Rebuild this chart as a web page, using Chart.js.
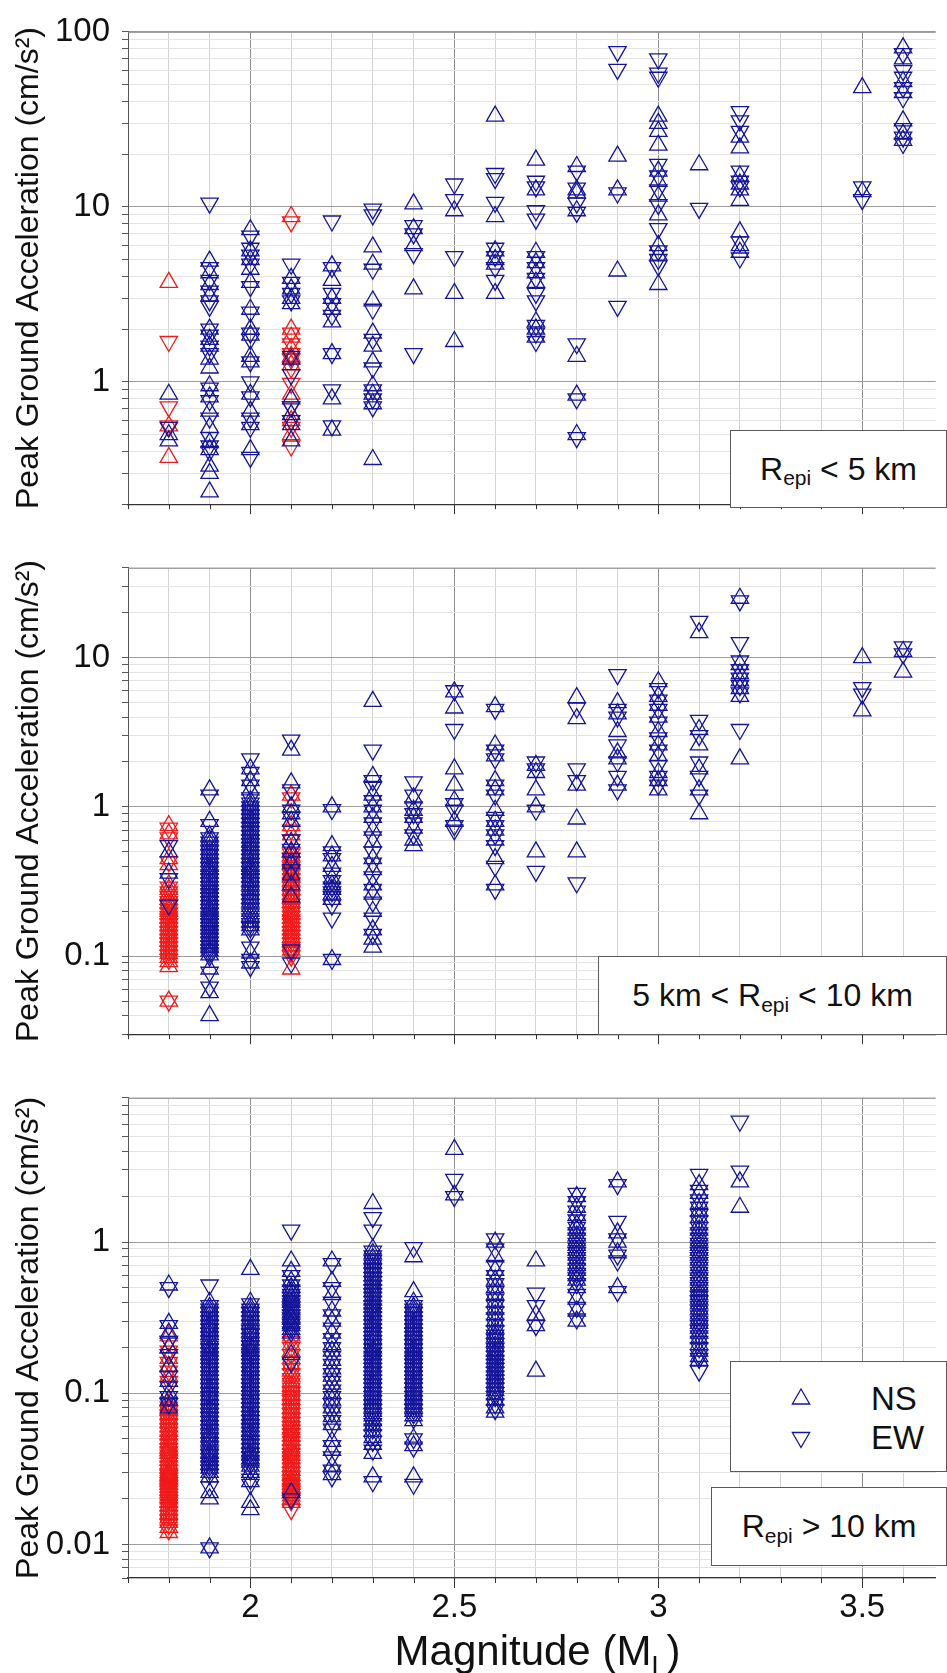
<!DOCTYPE html>
<html>
<head>
<meta charset="utf-8">
<script src="https://cdn.jsdelivr.net/npm/chart.js@4.4.1/dist/chart.umd.min.js"></script>
<style>
  html, body { margin: 0; padding: 0; background: #fff; }
  body { width: 947px; height: 1673px; position: relative; overflow: hidden;
         font-family: "Liberation Sans", Arial, sans-serif; color: #111; }
  canvas { position: absolute; left: 0; }
  .box { position: absolute; background: #fff; border: 1px solid #5a5a5a; box-sizing: border-box;
         display: flex; align-items: center; justify-content: center; font-size: 32px; white-space: nowrap; z-index: 2; }
  .sub { font-size: 21px; position: relative; top: 9px; }
  .leg { position: absolute; font-size: 33px; line-height: 33px; }
  #xtitle { position: absolute; left: 128px; width: 819px; top: 1630px; text-align: center;
            font-size: 42px; line-height: 42px; }
  #xtitle .subL { font-size: 27px; position: relative; top: 10px; }
</style>
</head>
<body>
<canvas id="c1" width="947" height="536" style="top:0px"></canvas>
<canvas id="c2" width="947" height="530" style="top:536px"></canvas>
<canvas id="c3" width="947" height="607" style="top:1066px"></canvas>

<div class="box" style="left:730px; top:430px; width:217px; height:78px;">R<span class="sub">epi</span>&nbsp;&lt; 5 km</div>
<div class="box" style="left:598px; top:956px; width:349px; height:79px;">5 km &lt; R<span class="sub">epi</span>&nbsp;&lt; 10 km</div>
<div class="box" style="left:711px; top:1487px; width:236px; height:79px;">R<span class="sub">epi</span>&nbsp;&gt; 10 km</div>
<div class="box" style="left:730px; top:1361px; width:217px; height:111px; display:block;">
  <svg width="217" height="111" style="position:absolute; left:0; top:0;">
    <polygon points="70,27 78.66,42 61.34,42" fill="none" stroke="#15159a" stroke-width="1.3"/>
    <polygon points="70,85.5 78.66,70.5 61.34,70.5" fill="none" stroke="#15159a" stroke-width="1.3"/>
  </svg>
  <span class="leg" style="left:140px; top:20px;">NS</span>
  <span class="leg" style="left:140px; top:59px;">EW</span>
</div>
<div id="xtitle">Magnitude (M<span class="subL">L</span>)</div>

<script>
// magnitudes of the event columns
const mags = [1.8, 1.9, 2.0, 2.1, 2.2, 2.3, 2.4, 2.5, 2.6, 2.7, 2.8, 2.9, 3.0, 3.1, 3.2, 3.5, 3.6];
const redMags = [1.8, 2.1];

// x grid / tick positions and labelled ticks
const xGridTicks = [1.7, 1.8, 1.9, 2.0, 2.1, 2.2, 2.3, 2.4, 2.5, 2.6, 2.7, 2.8, 2.9, 3.0, 3.1, 3.2, 3.3, 3.4, 3.5, 3.6];
const xTickLabels = [2, 2.5, 3, 3.5];
const minorSteps = [1, 2, 3, 4, 5, 6, 7, 8, 9];

// ---- Panel 1: Repi < 5 km (one inner list per magnitude in mags)
const p1NS = [
  [0.85, 0.5, 0.46],
  [4.9, 4.2, 3.6, 3.1, 2.0, 1.75, 1.6, 1.35, 1.2, 0.95, 0.82, 0.68, 0.55, 0.45, 0.41, 0.33, 0.3, 0.235],
  [7.4, 5.6, 5.0, 4.4, 3.7, 2.6, 2.0, 1.85, 1.4, 1.3, 0.85, 0.68, 0.57, 0.41],
  [3.9, 3.4, 3.0, 2.8, 1.35, 0.8, 0.65, 0.57, 0.46],
  [4.6, 3.8, 3.0, 2.6, 2.2, 1.45, 0.8, 0.53],
  [5.9, 4.7, 2.9, 1.9, 1.6, 1.3, 0.95, 0.85, 0.75, 0.36],
  [10.4, 7.5, 6.0, 3.4],
  [9.5, 3.2, 1.7],
  [33, 8.8, 5.6, 5.0, 4.7, 3.2],
  [18.5, 12.5, 5.5, 4.8, 4.2, 3.7, 2.2, 2.0, 1.8],
  [17, 12.5, 12.0, 9.5, 1.4, 0.84, 0.5],
  [19.5, 12.5, 4.3],
  [33, 30, 27, 22.5, 16, 14, 11.5, 9.0, 6.0, 5.3, 3.6],
  [17.4],
  [25, 21.7, 15, 13.5, 12.5, 10.9, 7.2, 6.0, 5.5],
  [48, 12.2],
  [81, 70, 52, 45, 31, 26, 24]
];
const p1EW = [
  [0.55],
  [10.5, 4.5, 3.8, 3.3, 2.9, 2.7, 2.0, 1.85, 1.6, 1.45, 0.92, 0.78, 0.62, 0.48, 0.43, 0.4],
  [6.8, 5.8, 5.3, 4.7, 3.5, 2.5, 1.9, 1.75, 1.3, 1.0, 0.82, 0.62, 0.55, 0.37],
  [4.7, 3.7, 3.2, 2.9, 1.4, 1.1, 0.72, 0.6],
  [8.3, 4.5, 3.2, 2.8, 2.4, 1.45, 0.9, 0.56],
  [9.7, 9.0, 4.4, 2.6, 1.75, 1.2, 0.9, 0.8, 0.72],
  [7.8, 7.0, 5.4, 1.45],
  [13.5, 11.0, 5.2],
  [15.5, 14.5, 10.6, 5.8, 5.2, 4.5, 3.8],
  [14, 13, 9.5, 8.5, 5.2, 4.5, 3.9, 3.2, 2.9, 2.1, 1.9, 1.7],
  [16, 12.8, 10.5, 9.3, 1.65, 0.8, 0.48],
  [77, 61, 12.0, 2.7],
  [70, 58, 55, 17.5, 15, 12.5, 10.3, 7.5, 5.6, 5.0, 4.6],
  [9.8],
  [35, 31, 27, 16, 14, 13, 6.3, 5.1],
  [13, 11],
  [75, 60, 55, 48, 42, 28, 25, 23]
];
const p1RedNS = [
  [3.7, 0.56, 0.37],
  [8.8, 2.0, 1.8, 1.55, 1.4, 1.25, 0.85, 0.6, 0.5]
];
const p1RedEW = [
  [1.7, 0.72, 0.56],
  [8.2, 1.9, 1.65, 1.45, 1.35, 1.2, 0.98, 0.72, 0.55, 0.43]
];

// ---- Panel 2: 5 km < Repi < 10 km
const p2NS = [
  [0.5, 0.36],
  [1.3, 0.8, 0.64, 0.6, 0.56, 0.52, 0.49, 0.46, 0.43, 0.4, 0.38, 0.36, 0.34, 0.32, 0.3, 0.285, 0.27, 0.255, 0.24, 0.225, 0.21, 0.2, 0.19, 0.18, 0.17, 0.16, 0.152, 0.144, 0.136, 0.128, 0.121, 0.114, 0.108, 0.102, 0.082, 0.057, 0.04],
  [1.8, 1.5, 1.3, 1.1, 1.03, 0.97, 0.91, 0.85, 0.8, 0.75, 0.7, 0.66, 0.62, 0.58, 0.55, 0.52, 0.49, 0.46, 0.43, 0.4, 0.38, 0.36, 0.34, 0.32, 0.3, 0.28, 0.26, 0.245, 0.23, 0.215, 0.2, 0.185, 0.17, 0.16, 0.15, 0.105, 0.09],
  [2.4, 1.45, 1.0, 0.9, 0.8, 0.58, 0.5, 0.42, 0.35, 0.3, 0.25],
  [1.0, 0.55, 0.47, 0.4, 0.33, 0.3, 0.28, 0.26, 0.24, 0.095],
  [5.1, 1.6, 1.2, 1.0, 0.85, 0.7, 0.58, 0.45, 0.38, 0.3, 0.26, 0.2, 0.15, 0.13, 0.115],
  [1.15, 0.95, 0.85, 0.72, 0.6, 0.55],
  [5.9, 4.6, 1.8, 1.4, 1.1, 0.8],
  [4.7, 2.6, 2.2, 1.5, 1.3, 0.95, 0.8, 0.7, 0.6, 0.45, 0.3],
  [1.9, 1.7, 1.3, 1.0, 0.5],
  [5.4, 3.9, 1.4, 0.83, 0.5],
  [5.0, 4.2, 3.2, 2.3, 2.1, 1.4],
  [6.9, 5.5, 4.8, 4.0, 3.2, 2.6, 2.2, 1.7, 1.5, 1.3],
  [14.7, 3.3, 2.6, 1.8, 1.3, 0.9],
  [25, 9.0, 7.8, 7.0, 6.2, 5.5, 2.1],
  [10, 4.4],
  [11, 8]
];
const p2EW = [
  [0.55, 0.33, 0.22],
  [1.2, 0.76, 0.62, 0.58, 0.54, 0.505, 0.475, 0.445, 0.415, 0.39, 0.37, 0.35, 0.33, 0.31, 0.292, 0.277, 0.262, 0.247, 0.232, 0.218, 0.205, 0.195, 0.185, 0.175, 0.165, 0.156, 0.148, 0.14, 0.132, 0.124, 0.117, 0.111, 0.105, 0.1, 0.078, 0.062],
  [2.1, 1.7, 1.4, 1.15, 1.06, 1.0, 0.94, 0.88, 0.825, 0.775, 0.725, 0.68, 0.64, 0.6, 0.565, 0.535, 0.505, 0.475, 0.445, 0.415, 0.39, 0.37, 0.35, 0.33, 0.31, 0.29, 0.27, 0.252, 0.237, 0.222, 0.207, 0.192, 0.178, 0.165, 0.155, 0.145, 0.115, 0.095, 0.085],
  [2.8, 1.3, 0.95, 0.85, 0.6, 0.52, 0.45, 0.38, 0.11, 0.09],
  [0.96, 0.5, 0.45, 0.36, 0.32, 0.29, 0.27, 0.25, 0.22, 0.18, 0.095],
  [2.4, 1.5, 1.35, 1.1, 0.95, 0.78, 0.63, 0.5, 0.42, 0.34, 0.28, 0.23, 0.18, 0.14],
  [1.47, 1.2, 1.0, 0.9, 0.78, 0.65],
  [6.0, 3.3, 1.05, 0.95, 0.75, 0.7],
  [4.5, 2.4, 2.1, 1.4, 1.2, 0.85, 0.75, 0.65, 0.55, 0.4, 0.28],
  [2.0, 1.8, 0.95, 0.37],
  [4.6, 1.8, 1.5, 0.31],
  [7.7, 4.5, 4.0, 2.6, 2.0, 1.6, 1.3],
  [6.2, 5.2, 4.5, 3.7, 2.9, 2.4, 1.9, 1.6, 1.4],
  [17.5, 3.8, 3.0, 2.0, 1.6, 1.2],
  [24, 12.6, 9.5, 8.3, 7.3, 6.5, 5.8, 3.3],
  [6.3, 5.7],
  [11.8, 10.6]
];
const p2RedNS = [
  [0.75, 0.66, 0.45, 0.41, 0.3, 0.28, 0.26, 0.24, 0.225, 0.21, 0.2, 0.19, 0.18, 0.17, 0.16, 0.15, 0.142, 0.134, 0.126, 0.118, 0.111, 0.104, 0.098, 0.092, 0.085, 0.05],
  [1.2, 0.75, 0.65, 0.5, 0.47, 0.44, 0.41, 0.38, 0.36, 0.34, 0.32, 0.3, 0.28, 0.26, 0.245, 0.23, 0.215, 0.2, 0.19, 0.18, 0.17, 0.16, 0.15, 0.142, 0.134, 0.126, 0.118, 0.11, 0.082]
];
const p2RedEW = [
  [0.72, 0.62, 0.43, 0.29, 0.27, 0.25, 0.232, 0.217, 0.205, 0.195, 0.185, 0.175, 0.165, 0.155, 0.146, 0.138, 0.13, 0.122, 0.115, 0.108, 0.101, 0.095, 0.05],
  [1.15, 0.7, 0.6, 0.485, 0.455, 0.425, 0.395, 0.37, 0.35, 0.33, 0.31, 0.29, 0.27, 0.252, 0.237, 0.222, 0.207, 0.195, 0.185, 0.175, 0.165, 0.155, 0.146, 0.138, 0.13, 0.122, 0.114, 0.106, 0.1]
];

// ---- Panel 3: Repi > 10 km
const p3NS = [
  [0.52, 0.29, 0.25, 0.2, 0.15, 0.12, 0.1, 0.09, 0.08],
  [0.4, 0.37, 0.35, 0.33, 0.31, 0.29, 0.275, 0.26, 0.245, 0.23, 0.215, 0.2, 0.19, 0.18, 0.17, 0.16, 0.15, 0.142, 0.134, 0.126, 0.118, 0.11, 0.104, 0.098, 0.092, 0.086, 0.081, 0.076, 0.071, 0.067, 0.063, 0.059, 0.055, 0.052, 0.049, 0.046, 0.043, 0.04, 0.038, 0.036, 0.034, 0.032, 0.03, 0.028, 0.022, 0.02, 0.0095],
  [0.66, 0.4, 0.37, 0.35, 0.33, 0.31, 0.29, 0.27, 0.255, 0.24, 0.225, 0.21, 0.2, 0.19, 0.18, 0.17, 0.16, 0.15, 0.142, 0.134, 0.126, 0.118, 0.111, 0.105, 0.099, 0.093, 0.087, 0.082, 0.077, 0.072, 0.068, 0.064, 0.06, 0.056, 0.053, 0.05, 0.047, 0.044, 0.041, 0.039, 0.037, 0.035, 0.033, 0.03, 0.026, 0.019, 0.017],
  [0.75, 0.64, 0.55, 0.5, 0.47, 0.44, 0.42, 0.4, 0.38, 0.36, 0.34, 0.32, 0.31, 0.29, 0.28, 0.265, 0.25, 0.18, 0.022],
  [0.75, 0.55, 0.45, 0.35, 0.3, 0.25, 0.21, 0.19, 0.165, 0.145, 0.13, 0.115, 0.1, 0.09, 0.08, 0.07, 0.062, 0.048, 0.042, 0.033, 0.029],
  [1.8, 0.9, 0.84, 0.78, 0.73, 0.68, 0.64, 0.6, 0.56, 0.53, 0.5, 0.47, 0.44, 0.415, 0.39, 0.37, 0.35, 0.33, 0.31, 0.29, 0.275, 0.26, 0.245, 0.23, 0.215, 0.2, 0.19, 0.18, 0.17, 0.16, 0.15, 0.142, 0.134, 0.126, 0.118, 0.111, 0.104, 0.098, 0.092, 0.086, 0.081, 0.076, 0.071, 0.066, 0.061, 0.056, 0.051, 0.046, 0.04, 0.028],
  [0.8, 0.47, 0.4, 0.37, 0.35, 0.33, 0.31, 0.29, 0.275, 0.26, 0.245, 0.23, 0.215, 0.2, 0.19, 0.18, 0.17, 0.16, 0.15, 0.142, 0.134, 0.126, 0.118, 0.111, 0.104, 0.098, 0.092, 0.086, 0.081, 0.076, 0.071, 0.066, 0.05, 0.045, 0.028],
  [4.1, 2.05],
  [1.0, 0.8, 0.65, 0.56, 0.5, 0.45, 0.4, 0.36, 0.33, 0.3, 0.27, 0.25, 0.235, 0.22, 0.205, 0.19, 0.18, 0.17, 0.16, 0.15, 0.142, 0.134, 0.126, 0.118, 0.111, 0.104, 0.098, 0.09, 0.08, 0.075],
  [0.75, 0.33, 0.28, 0.14],
  [2.0, 1.7, 1.5, 1.3, 1.2, 1.1, 1.02, 0.95, 0.88, 0.82, 0.76, 0.7, 0.65, 0.6, 0.56, 0.5, 0.42, 0.35, 0.3],
  [2.5, 1.15, 1.0, 0.85, 0.5],
  [],
  [2.4, 2.1, 1.8, 1.6, 1.45, 1.3, 1.2, 1.1, 1.02, 0.95, 0.88, 0.82, 0.76, 0.7, 0.65, 0.6, 0.56, 0.52, 0.48, 0.45, 0.42, 0.39, 0.36, 0.335, 0.31, 0.29, 0.27, 0.25, 0.23, 0.21, 0.19, 0.175, 0.165],
  [2.5, 1.7],
  [],
  []
];
const p3EW = [
  [0.5, 0.28, 0.22, 0.18, 0.13, 0.11, 0.095, 0.085],
  [0.52, 0.38, 0.36, 0.34, 0.32, 0.3, 0.28, 0.265, 0.25, 0.235, 0.22, 0.205, 0.195, 0.185, 0.175, 0.165, 0.155, 0.146, 0.138, 0.13, 0.122, 0.114, 0.107, 0.1, 0.095, 0.089, 0.083, 0.078, 0.073, 0.069, 0.065, 0.061, 0.057, 0.053, 0.05, 0.047, 0.044, 0.041, 0.039, 0.037, 0.035, 0.033, 0.031, 0.029, 0.024, 0.0095],
  [0.39, 0.36, 0.34, 0.32, 0.3, 0.28, 0.26, 0.245, 0.23, 0.215, 0.205, 0.195, 0.185, 0.175, 0.165, 0.155, 0.146, 0.138, 0.13, 0.122, 0.115, 0.108, 0.102, 0.096, 0.09, 0.085, 0.08, 0.075, 0.07, 0.066, 0.062, 0.058, 0.055, 0.052, 0.049, 0.046, 0.043, 0.04, 0.038, 0.036, 0.034, 0.031, 0.027, 0.025],
  [1.2, 0.6, 0.52, 0.48, 0.45, 0.43, 0.41, 0.39, 0.37, 0.35, 0.33, 0.315, 0.3, 0.285, 0.27, 0.255, 0.16, 0.02],
  [0.72, 0.5, 0.4, 0.33, 0.27, 0.23, 0.2, 0.175, 0.155, 0.135, 0.12, 0.105, 0.095, 0.085, 0.075, 0.066, 0.058, 0.045, 0.038, 0.031, 0.028],
  [1.45, 1.2, 0.87, 0.81, 0.755, 0.705, 0.66, 0.62, 0.58, 0.545, 0.515, 0.485, 0.455, 0.43, 0.405, 0.38, 0.36, 0.34, 0.32, 0.3, 0.283, 0.267, 0.252, 0.237, 0.222, 0.208, 0.195, 0.185, 0.175, 0.165, 0.155, 0.146, 0.138, 0.13, 0.122, 0.115, 0.108, 0.101, 0.095, 0.089, 0.083, 0.078, 0.073, 0.068, 0.063, 0.058, 0.053, 0.048, 0.042, 0.026],
  [0.92, 0.38, 0.36, 0.34, 0.32, 0.3, 0.283, 0.267, 0.252, 0.237, 0.222, 0.208, 0.195, 0.185, 0.175, 0.165, 0.155, 0.146, 0.138, 0.13, 0.122, 0.115, 0.108, 0.101, 0.095, 0.089, 0.083, 0.078, 0.073, 0.068, 0.05, 0.044, 0.025],
  [2.6, 2.0],
  [1.05, 0.9, 0.7, 0.6, 0.53, 0.47, 0.42, 0.38, 0.345, 0.315, 0.285, 0.26, 0.242, 0.227, 0.212, 0.197, 0.185, 0.175, 0.165, 0.155, 0.146, 0.138, 0.13, 0.122, 0.115, 0.108, 0.101, 0.095, 0.085, 0.078],
  [0.46, 0.38, 0.28],
  [2.1, 1.85, 1.6, 1.4, 1.25, 1.15, 1.06, 0.98, 0.91, 0.85, 0.79, 0.73, 0.67, 0.62, 0.58, 0.53, 0.45, 0.37, 0.31],
  [2.4, 1.37, 1.05, 0.82, 0.75, 0.47],
  [],
  [2.8, 2.2, 1.9, 1.7, 1.52, 1.38, 1.25, 1.15, 1.06, 0.98, 0.91, 0.85, 0.79, 0.73, 0.68, 0.63, 0.58, 0.54, 0.5, 0.465, 0.435, 0.405, 0.375, 0.35, 0.325, 0.3, 0.28, 0.26, 0.24, 0.22, 0.2, 0.18, 0.17, 0.14],
  [6.3, 2.95],
  [],
  []
];
const p3RedNS = [
  [0.24, 0.2, 0.17, 0.15, 0.13, 0.09, 0.084, 0.078, 0.073, 0.068, 0.064, 0.06, 0.056, 0.053, 0.05, 0.047, 0.044, 0.042, 0.04, 0.038, 0.036, 0.034, 0.032, 0.03, 0.029, 0.028, 0.027, 0.026, 0.025, 0.024, 0.023, 0.022, 0.021, 0.02, 0.019, 0.018, 0.017, 0.016, 0.015, 0.014, 0.013, 0.012],
  [0.24, 0.21, 0.19, 0.17, 0.155, 0.14, 0.13, 0.12, 0.112, 0.105, 0.098, 0.092, 0.086, 0.08, 0.075, 0.07, 0.066, 0.062, 0.058, 0.055, 0.052, 0.049, 0.046, 0.043, 0.041, 0.039, 0.037, 0.035, 0.033, 0.031, 0.029, 0.027, 0.026, 0.025, 0.024, 0.023, 0.022, 0.021, 0.02, 0.019]
];
const p3RedEW = [
  [0.22, 0.19, 0.16, 0.14, 0.12, 0.087, 0.081, 0.076, 0.071, 0.066, 0.062, 0.058, 0.055, 0.052, 0.049, 0.046, 0.043, 0.041, 0.039, 0.037, 0.035, 0.033, 0.031, 0.0295, 0.0285, 0.0275, 0.0265, 0.0255, 0.0245, 0.0235, 0.0225, 0.0215, 0.0205, 0.0195, 0.0185, 0.0175, 0.0165, 0.0155, 0.0145, 0.0135, 0.0125],
  [0.22, 0.2, 0.18, 0.16, 0.145, 0.135, 0.125, 0.116, 0.108, 0.101, 0.095, 0.089, 0.083, 0.078, 0.073, 0.068, 0.064, 0.06, 0.057, 0.054, 0.051, 0.048, 0.045, 0.042, 0.04, 0.038, 0.036, 0.034, 0.032, 0.03, 0.028, 0.0265, 0.0255, 0.0245, 0.0235, 0.0225, 0.0215, 0.0205, 0.0195, 0.017]
];

const BLUE = '#15159a';
const RED = '#f01a1a';
const FONT = '"Liberation Sans", Arial, sans-serif';

function toPoints(xs, cols) {
  const out = [];
  cols.forEach((vals, i) => vals.forEach(v => out.push({ x: xs[i], y: v })));
  return out;
}
function isDecade(v) {
  const l = Math.log10(v);
  return Math.abs(l - Math.round(l)) < 1e-6;
}
function isHalf(v) {
  return Math.abs(v * 2 - Math.round(v * 2)) < 1e-6;
}
function logTicks(decades, min, max) {
  const t = [];
  decades.forEach(d => minorSteps.forEach(m => {
    const v = +(d * m).toPrecision(6);
    if (v >= min * 0.9999 && v <= max * 1.0001) t.push(v);
  }));
  return t;
}
function decadeLabel(v) {
  if (!isDecade(v)) return '';
  const e = Math.round(Math.log10(v));
  return e >= 0 ? String(Math.pow(10, e)) : Math.pow(10, e).toFixed(-e);
}

function series(pts, up, color) {
  return {
    data: pts,
    pointStyle: 'triangle',
    pointRotation: up ? 0 : 180,
    pointRadius: 10,
    pointBorderWidth: 1.3,
    pointBorderColor: color,
    pointBackgroundColor: 'rgba(0,0,0,0)',
    showLine: false
  };
}

// frame top line + x tick marks under the axis
const framePlugin = {
  id: 'frame',
  beforeDatasetsDraw(chart) {
    const { ctx, chartArea: a, scales: { x } } = chart;
    ctx.save();
    ctx.lineWidth = 1;
    ctx.strokeStyle = '#8a8a8a';
    ctx.beginPath();
    ctx.moveTo(a.left, a.top + 0.5);
    ctx.lineTo(a.right, a.top + 0.5);
    ctx.stroke();
    ctx.strokeStyle = '#333';
    xGridTicks.forEach(v => {
      const px = Math.round(x.getPixelForValue(v)) + 0.5;
      ctx.beginPath();
      ctx.moveTo(px, a.bottom);
      ctx.lineTo(px, a.bottom + (isHalf(v) ? 10 : 5));
      ctx.stroke();
    });
    ctx.restore();
  }
};

const panels = [
  { id: 'c1', padTop: 21, xH: 18, yMin: 0.2, yMax: 100, decades: [0.1, 1, 10, 100],
    ns: p1NS, ew: p1EW, rns: p1RedNS, rew: p1RedEW, showX: false },
  { id: 'c2', padTop: 15, xH: 18, yMin: 0.03, yMax: 40, decades: [0.01, 0.1, 1, 10],
    ns: p2NS, ew: p2EW, rns: p2RedNS, rew: p2RedEW, showX: false },
  { id: 'c3', padTop: 16, xH: 95, yMin: 0.006, yMax: 9, decades: [0.001, 0.01, 0.1, 1],
    ns: p3NS, ew: p3EW, rns: p3RedNS, rew: p3RedEW, showX: true }
];

panels.forEach(p => {
  const yTicks = logTicks(p.decades, p.yMin, p.yMax);
  new Chart(document.getElementById(p.id), {
    type: 'scatter',
    data: {
      datasets: [
        series(toPoints(mags, p.ns), true, BLUE),
        series(toPoints(mags, p.ew), false, BLUE),
        series(toPoints(redMags, p.rns), true, RED),
        series(toPoints(redMags, p.rew), false, RED)
      ]
    },
    options: {
      responsive: false,
      devicePixelRatio: 1,
      animation: false,
      events: [],
      layout: { padding: { top: p.padTop, left: 0, right: 0, bottom: 0 } },
      plugins: { legend: { display: false }, tooltip: { enabled: false } },
      scales: {
        x: {
          type: 'linear',
          min: 1.7,
          max: 3.68,
          afterBuildTicks: s => { s.ticks = xGridTicks.map(v => ({ value: v })); },
          afterFit: s => { s.height = p.xH; },
          ticks: {
            display: p.showX,
            autoSkip: false,
            maxRotation: 0,
            padding: 10,
            color: '#111',
            font: { size: 33, family: FONT },
            callback: v => {
              const r = Math.round(v * 10) / 10;
              return xTickLabels.includes(r) ? String(r) : '';
            }
          },
          grid: {
            drawTicks: false,
            lineWidth: 1,
            color: c => (c.tick && isHalf(c.tick.value)) ? '#8e8e8e' : '#d3d3d3'
          },
          border: { color: '#333', width: 1.2 }
        },
        y: {
          type: 'logarithmic',
          min: p.yMin,
          max: p.yMax,
          afterBuildTicks: s => { s.ticks = yTicks.map(v => ({ value: v })); },
          afterFit: s => { s.width = 128; },
          ticks: {
            autoSkip: false,
            padding: 12,
            color: '#111',
            font: { size: 33, family: FONT },
            callback: v => decadeLabel(v)
          },
          grid: {
            drawTicks: true,
            tickLength: 6,
            tickColor: '#555',
            lineWidth: 1,
            color: c => (c.tick && isDecade(c.tick.value)) ? '#9c9c9c' : '#e4e4e4'
          },
          border: { color: '#555', width: 1 },
          title: {
            display: true,
            text: 'Peak Ground Acceleration (cm/s²)',
            color: '#111',
            font: { size: 32, family: FONT },
            padding: { top: 10, bottom: 0 }
          }
        }
      }
    },
    plugins: [framePlugin]
  });
});
</script>
</body>
</html>
